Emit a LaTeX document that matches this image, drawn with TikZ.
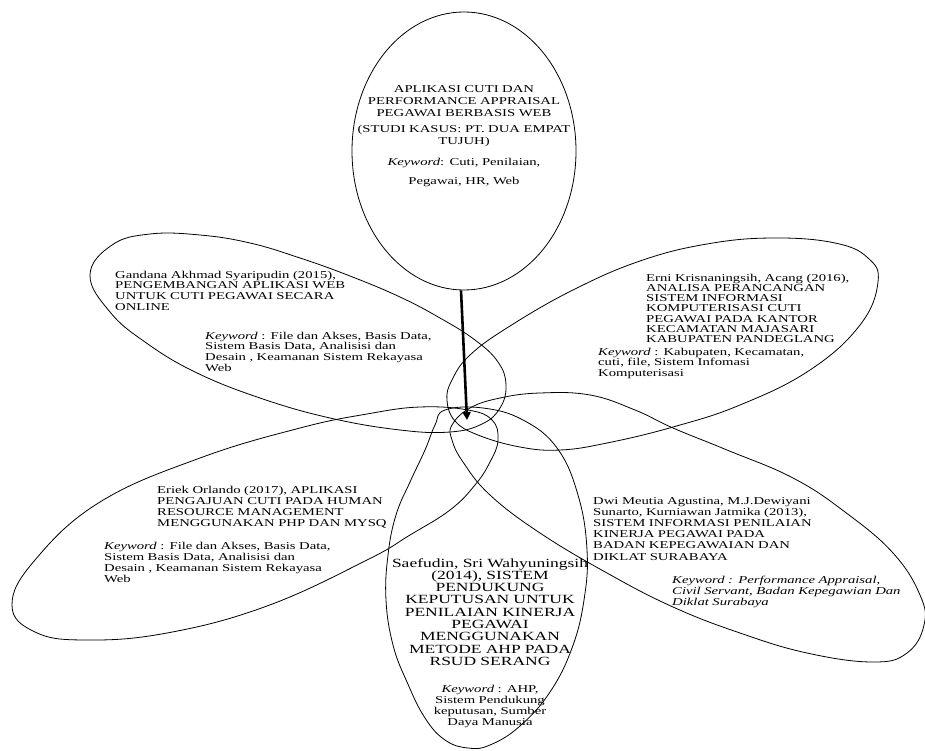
\documentclass[tikz,border=0pt]{standalone}
\usepackage{fontspec}
\setmainfont{Liberation Serif}[FakeStretch=1.4]
\usetikzlibrary{shapes.geometric,arrows.meta}
\newcommand{\jl}[1]{\makebox[\linewidth][s]{#1}\\}
\begin{document}
\begin{tikzpicture}[x=1pt,y=-1pt,
  petal/.style={draw=black, line width=0.8pt},
  arr/.style={line width=2.6pt, -{Triangle[length=8pt,width=8pt]}},
  jtxt/.style={inner sep=0pt, anchor=base west, align=left, font={\fontsize{10.5}{10.8}\selectfont}},
  ctxt/.style={inner sep=0pt, anchor=base, align=center, font={\fontsize{10.5}{12}\selectfont}}]
\useasboundingbox (0,0) rectangle (925,751);
% top ellipse
\node[petal, ellipse, minimum width=224pt, minimum height=278pt, inner sep=0pt] (topell) at (464,151) {};
% petals
\draw[petal] plot[smooth cycle, tension=0.7] coordinates {(90,275) (112,245) (150,234) (200,235) (250,243) (300,258) (350,276) (400,297) (440,318) (475,340) (498,362) (506,385) (500,408) (482,424) (450,432) (400,430) (330,418) (260,398) (195,372) (145,342) (110,312)};
\draw[petal] plot[smooth cycle, tension=0.7] coordinates {(452,380) (470,355) (510,326) (573,290) (640,261) (707,244) (773,238) (835,243) (868,258) (878,282) (860,325) (810,370) (740,405) (673,427) (607,443) (560,450) (520,447) (478,435) (455,421) (447,400)};
\draw[petal] plot[smooth cycle, tension=0.7] coordinates {(12,605) (35,560) (100,502) (200,458) (300,428) (367,414) (420,407) (468,410) (492,420) (498,440) (490,462) (475,485) (450,510) (410,535) (367,560) (267,606) (167,633) (85,640) (35,632)};
\draw[petal] plot[smooth cycle, tension=0.7] coordinates {(452,425) (470,408) (500,398) (540,393) (590,395) (635,410) (673,428) (727,450) (793,478) (845,512) (893,553) (920,595) (924,625) (907,653) (873,662) (807,653) (740,633) (673,607) (607,573) (540,533) (490,495) (463,462) (452,440)};
\draw[petal] plot[smooth cycle, tension=0.7] coordinates {(445,410) (483,408) (523,420) (557,448) (578,495) (587,550) (584,600) (572,648) (550,692) (520,726) (490,745) (468,748) (445,740) (425,718) (407,682) (393,645) (386,600) (388,555) (396,515) (410,482) (425,450) (435,425)};
% arrow
\coordinate (hub) at (467,420);
\draw[arr] ([xshift=-3pt]topell.south) -- (hub);
% texts
\node[ctxt, text width=250pt] (toptext) at (464,93) {APLIKASI CUTI DAN\\ PERFORMANCE APPRAISAL\\ PEGAWAI BERBASIS WEB\\[4pt] (STUDI KASUS: PT. DUA EMPAT\\ TUJUH)\\[9pt] \textit{Keyword}: Cuti, Penilaian,\\[7pt] Pegawai, HR, Web};
\node[jtxt, text width=230pt] (g1) at (115,278) {\jl{Gandana Akhmad Syaripudin (2015),}\jl{PENGEMBANGAN APLIKASI WEB}\jl{UNTUK CUTI PEGAWAI SECARA}ONLINE};
\node[jtxt, text width=228pt] (g2) at (205,339) {\jl{\textit{Keyword} : File dan Akses, Basis Data,}\jl{Sistem Basis Data, Analisisi dan}\jl{Desain , Keamanan Sistem Rekayasa}Web};
\node[jtxt, text width=215pt, font={\fontsize{10.5}{10.3}\selectfont}] (e1) at (646,281) {Erni Krisnaningsih, Acang (2016),\\ ANALISA PERANCANGAN\\ SISTEM INFORMASI\\ KOMPUTERISASI CUTI\\ PEGAWAI PADA KANTOR\\ KECAMATAN MAJASARI\\ KABUPATEN PANDEGLANG};
\node[jtxt, text width=195pt, font={\fontsize{10.5}{10.5}\selectfont}] (e2) at (598,355) {\jl{\textit{Keyword} : Kabupaten, Kecamatan,}\jl{cuti, file, Sistem Infomasi}Komputerisasi};
\node[jtxt, text width=231pt, font={\fontsize{10.5}{11}\selectfont}] (o1) at (157,493) {\jl{Eriek Orlando (2017), APLIKASI}\jl{PENGAJUAN CUTI PADA HUMAN}\jl{RESOURCE MANAGEMENT}\makebox[\linewidth][s]{MENGGUNAKAN PHP DAN MYSQ}};
\node[jtxt, text width=229pt, font={\fontsize{10.5}{11}\selectfont}] (o2) at (104,549) {\jl{\textit{Keyword} : File dan Akses, Basis Data,}\jl{Sistem Basis Data, Analisisi dan}\jl{Desain , Keamanan Sistem Rekayasa}Web};
\node[jtxt, text width=220pt, font={\fontsize{10.5}{11.2}\selectfont}] (d1) at (593,504) {\jl{Dwi Meutia Agustina, M.J.Dewiyani}\jl{Sunarto, Kurniawan Jatmika (2013),}\jl{SISTEM INFORMASI PENILAIAN}\jl{KINERJA PEGAWAI PADA}\jl{BADAN KEPEGAWAIAN DAN}DIKLAT SURABAYA};
\node[jtxt, text width=231pt, font={\fontsize{10.5}{11}\selectfont\itshape}] (d2) at (672,583) {\jl{Keyword : Performance Appraisal,}\jl{Civil Servant, Badan Kepegawian Dan}Diklat Surabaya};
\node[ctxt, text width=220pt, font={\fontsize{12.5}{12.3}\selectfont}] (s1) at (490,567) {Saefudin, Sri Wahyuningsih\\ (2014), SISTEM\\ PENDUKUNG\\ KEPUTUSAN UNTUK\\ PENILAIAN KINERJA\\ PEGAWAI\\ MENGGUNAKAN\\ METODE AHP PADA\\ RSUD SERANG};
\node[ctxt, text width=200pt, font={\fontsize{10.5}{11}\selectfont}] (s2) at (490,692) {\textit{Keyword} : AHP,\\ Sistem Pendukung\\ keputusan, Sumber\\ Daya Manusia};
\end{tikzpicture}
\end{document}
